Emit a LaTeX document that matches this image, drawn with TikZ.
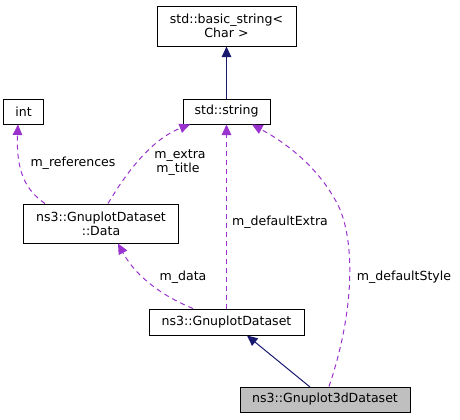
\documentclass[tikz,border=0pt]{standalone}
\usepackage{fontspec}
\setmainfont{DejaVu Sans}
\usetikzlibrary{arrows.meta}
\definecolor{edgepurple}{HTML}{9A32CD}
\definecolor{edgenavy}{HTML}{191970}
\definecolor{boxgray}{HTML}{BFBFBF}
\tikzset{
  cls/.style={draw=black, line width=1bp, fill=white, inner sep=0pt, align=center, font=\fontsize{12.6}{14}\selectfont},
  usage/.style={draw=edgepurple, line width=1bp, dash pattern=on 5bp off 4bp, -{Triangle[length=10.5bp,width=9.5bp]}, fill=none},
  inherit/.style={draw=edgenavy, line width=1bp, -{Triangle[length=10.5bp,width=9.5bp,fill=edgenavy]}},
  lbl/.style={font=\fontsize{12.6}{14}\selectfont, align=left, inner sep=0pt}
}
\begin{document}
\begin{tikzpicture}[x=1bp,y=-1bp]
\useasboundingbox (0,0) rectangle (460,419);
% nodes
\node[cls, minimum width=139bp, minimum height=40bp] (bs) at (226.5,26) {std::basic\_string<\\Char >};
\node[cls, minimum width=87bp, minimum height=25bp] (str) at (226.5,111.5) {std::string};
\node[cls, minimum width=39bp, minimum height=25bp] (int) at (23.5,111.5) {int};
\node[cls, minimum width=154bp, minimum height=39bp] (data) at (101,223.5) {ns3::GnuplotDataset\\::Data};
\node[cls, minimum width=155bp, minimum height=26bp] (gd) at (226.5,322) {ns3::GnuplotDataset};
\node[cls, fill=boxgray, minimum width=170bp, minimum height=25bp] (g3) at (325,399.5) {ns3::Gnuplot3dDataset};
% coordinates on borders
\coordinate (strL) at (190,124.5);
\coordinate (strR) at (252,124.5);
\coordinate (intB) at (18,124.5);
\coordinate (dataB) at (118,243.5);
\coordinate (gdB) at (247,335.5);
% inheritance
\draw[inherit] (str.north) -- (bs.south);
\draw[inherit] (310,387) -- (gdB);
% usage
\draw[usage] (45,203.5) .. controls (25,190) and (16,170) .. (intB);
\draw[usage] (108,203.5) .. controls (125,175) and (150,140) .. (strL);
\draw[usage] (gd.north) -- (str.south);
\draw[usage] (193,308.5) .. controls (160,295) and (135,275) .. (dataB);
\draw[usage] (329,386.5) .. controls (355,310) and (355,240) .. (338,205) .. controls (320,170) and (290,145) .. (strR);
% labels
\node[lbl] (l1) at (73,163) {m\_references};
\node[lbl] (l2) at (180,163) {m\_extra\\\,m\_title};
\node[lbl] (l3) at (280,222) {m\_defaultExtra};
\node[lbl] (l4) at (183,277) {m\_data};
\node[lbl] (l5) at (404,277) {m\_defaultStyle};
\end{tikzpicture}
\end{document}
